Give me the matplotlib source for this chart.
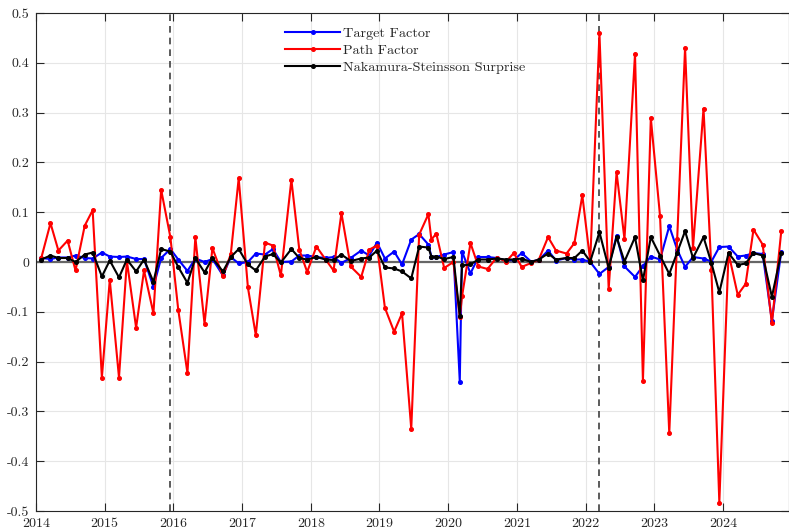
import datetime as dt
import matplotlib
matplotlib.use("Agg")
import matplotlib.pyplot as plt
import numpy as np

# FOMC announcement dates
meeting_dates = [
    "2014-01-29", "2014-03-19", "2014-04-30", "2014-06-18", "2014-07-30", "2014-09-17", "2014-10-29", "2014-12-17",
    "2015-01-28", "2015-03-18", "2015-04-29", "2015-06-17", "2015-07-29", "2015-09-17", "2015-10-28", "2015-12-16",
    "2016-01-27", "2016-03-16", "2016-04-27", "2016-06-15", "2016-07-27", "2016-09-21", "2016-11-02", "2016-12-14",
    "2017-02-01", "2017-03-15", "2017-05-03", "2017-06-14", "2017-07-26", "2017-09-20", "2017-11-01", "2017-12-13",
    "2018-01-31", "2018-03-21", "2018-05-02", "2018-06-13", "2018-08-01", "2018-09-26", "2018-11-08", "2018-12-19",
    "2019-01-30", "2019-03-20", "2019-05-01", "2019-06-19", "2019-07-31", "2019-09-18", "2019-10-04", "2019-10-30", "2019-12-11",
    "2020-01-29", "2020-03-03", "2020-03-15", "2020-04-29", "2020-06-10", "2020-07-29", "2020-09-16", "2020-11-05", "2020-12-16",
    "2021-01-27", "2021-03-17", "2021-04-28", "2021-06-16", "2021-07-28", "2021-09-22", "2021-11-03", "2021-12-15",
    "2022-01-26", "2022-03-16", "2022-05-04", "2022-06-15", "2022-07-27", "2022-09-21", "2022-11-02", "2022-12-14",
    "2023-02-01", "2023-03-22", "2023-05-03", "2023-06-14", "2023-07-26", "2023-09-20", "2023-11-01", "2023-12-13",
    "2024-01-31", "2024-03-20", "2024-05-01", "2024-06-12", "2024-07-31", "2024-09-18", "2024-11-07",
]

target_factor = [
    0.008, 0.006, 0.009, 0.009, 0.013, 0.008, 0.007, 0.019,
    0.011, 0.010, 0.011, 0.006, 0.006, -0.050, 0.008, 0.026,
    0.005, -0.018, 0.007, 0.000, 0.006, -0.027, 0.010, -0.003,
    0.000, 0.017, 0.015, 0.026, 0.000, 0.001, 0.013, 0.013,
    0.010, 0.008, 0.010, -0.002, 0.008, 0.023, 0.013, 0.039,
    0.007, 0.021, -0.005, 0.045, 0.056, 0.035, 0.011, 0.010, 0.015,
    0.020, -0.240, 0.021, -0.023, 0.010, 0.010, 0.008, 0.003, 0.004,
    0.018, 0.001, 0.004, 0.023, 0.003, 0.008, 0.005, 0.005,
    0.000, -0.024, -0.010, 0.053, -0.009, -0.030, -0.008, 0.011,
    0.005, 0.072, 0.025, -0.010, 0.010, 0.007, 0.001, 0.030,
    0.031, 0.011, 0.013, 0.018, 0.016, -0.118, 0.021,
]

path_factor = [
    0.008, 0.078, 0.023, 0.043, -0.017, 0.073, 0.104, -0.232,
    -0.036, -0.232, 0.002, -0.132, -0.017, -0.103, 0.145, 0.050,
    -0.096, -0.223, 0.050, -0.124, 0.028, -0.029, 0.016, 0.168,
    -0.051, -0.147, 0.039, 0.033, -0.027, 0.165, 0.025, -0.020,
    0.031, 0.005, -0.017, 0.098, -0.009, -0.030, 0.025, 0.033,
    -0.092, -0.140, -0.103, -0.335, 0.055, 0.096, 0.045, 0.057, -0.012,
    0.000, -0.111, -0.069, 0.038, -0.009, -0.014, 0.009, 0.001, 0.018,
    -0.010, -0.002, 0.005, 0.050, 0.023, 0.017, 0.038, 0.134,
    0.002, 0.459, -0.054, 0.180, 0.046, 0.418, -0.239, 0.289,
    0.092, -0.344, 0.046, 0.430, 0.028, 0.308, -0.016, -0.483,
    0.018, -0.066, -0.044, 0.065, 0.035, -0.123, 0.062,
]

ns_surprise = [
    0.005, 0.013, 0.008, 0.008, 0.000, 0.015, 0.019, -0.029,
    0.003, -0.031, 0.005, -0.019, 0.005, -0.040, 0.026, 0.021,
    -0.010, -0.042, 0.008, -0.021, 0.008, -0.019, 0.010, 0.026,
    -0.005, -0.017, 0.011, 0.016, -0.001, 0.026, 0.008, 0.005,
    0.010, 0.005, 0.004, 0.015, 0.002, 0.007, 0.009, 0.023,
    -0.011, -0.013, -0.019, -0.033, 0.031, 0.029, 0.011, 0.011, 0.006,
    0.010, -0.108, -0.007, -0.005, 0.005, 0.005, 0.007, 0.005, 0.005,
    0.007, 0.000, 0.005, 0.017, 0.005, 0.008, 0.008, 0.023,
    0.001, 0.060, -0.012, 0.050, 0.001, 0.050, -0.037, 0.050,
    0.013, -0.024, 0.019, 0.062, 0.008, 0.050, -0.002, -0.061,
    0.018, -0.006, -0.003, 0.018, 0.013, -0.070, 0.019,
]

# Policy liftoff dates marked with vertical dashed lines
liftoff_dates = ["2015-12-16", "2022-03-16"]

x_ticks = list(range(2014, 2025))
y_ticks = [-0.5, -0.4, -0.3, -0.2, -0.1, 0.0, 0.1, 0.2, 0.3, 0.4, 0.5]
y_ticklabels = ["-0.5", "-0.4", "-0.3", "-0.2", "-0.1", "0", "0.1", "0.2", "0.3", "0.4", "0.5"]


def decimal_year(s):
    d = dt.date.fromisoformat(s)
    start = dt.date(d.year, 1, 1)
    ndays = (dt.date(d.year + 1, 1, 1) - start).days
    return d.year + (d - start).days / ndays


t = np.array([decimal_year(s) for s in meeting_dates])

plt.rcParams["font.family"] = "cmr10"
plt.rcParams["axes.formatter.use_mathtext"] = True
plt.rcParams["font.size"] = 10

fig = plt.figure(figsize=(7.89, 5.31), dpi=100)
ax = fig.add_axes([36 / 789, 20 / 531, 752.5 / 789, 498 / 531])

ax.grid(True, color="0.9", lw=0.8, zorder=0)
ax.set_axisbelow(True)

ax.axhline(0, color="0.4", lw=1.6, zorder=1)
for s in liftoff_dates:
    ax.axvline(decimal_year(s), color="0.25", lw=1.2, ls=(0, (4, 3)), zorder=1)

kw = dict(lw=1.5, marker="o", markersize=2.6, zorder=3)
ax.plot(t, target_factor, color=(0, 0, 1), label="Target Factor", **kw)
ax.plot(t, path_factor, color=(1, 0, 0), label="Path Factor", **kw)
ax.plot(t, ns_surprise, color="black", label="Nakamura-Steinsson Surprise", **kw)

ax.set_xlim(2014, 2024.955)
ax.set_ylim(-0.5, 0.5)
ax.set_xticks(x_ticks)
ax.set_xticklabels([str(v) for v in x_ticks])
ax.set_yticks(y_ticks)
ax.set_yticklabels(y_ticklabels)

ax.tick_params(direction="in", top=True, right=True, length=5.5, width=0.8,
               colors="0.15", labelsize=10, pad=5)
for sp in ax.spines.values():
    sp.set_color("0.15")
    sp.set_linewidth(0.8)

leg = ax.legend(loc="upper left", bbox_to_anchor=(0.331, 0.972), frameon=False,
                borderpad=0, borderaxespad=0, handlelength=3.9, handletextpad=0.2,
                labelspacing=0.3, fontsize=10.2)
for txt in leg.get_texts():
    txt.set_color("0.15")

fig.savefig("out.png", dpi=100)
